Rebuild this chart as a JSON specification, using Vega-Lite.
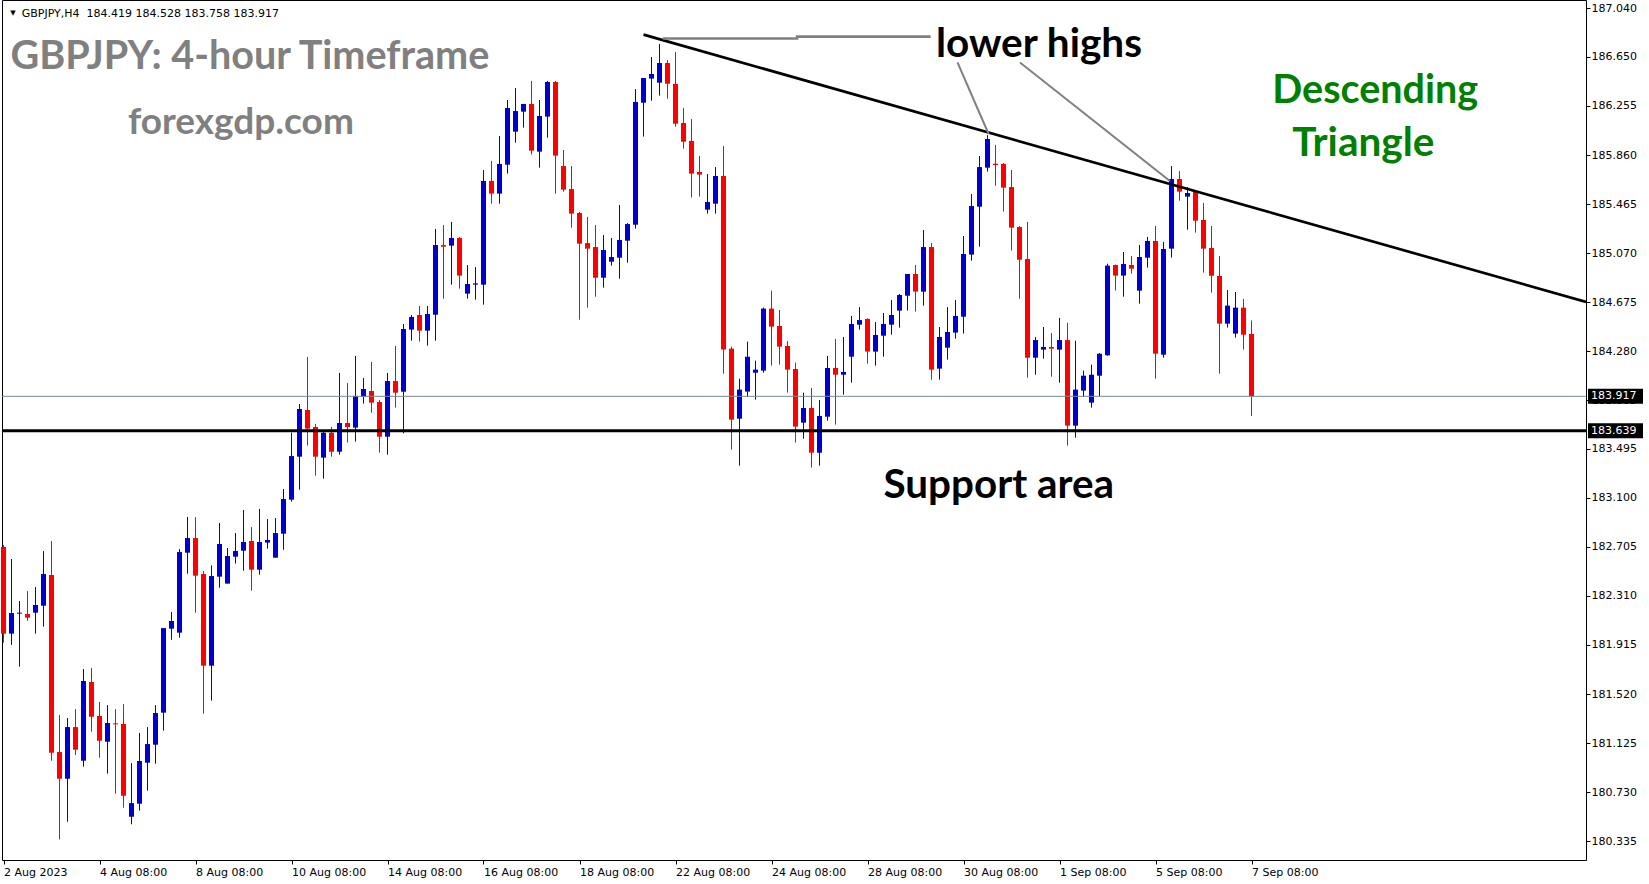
{
  "$schema": "https://vega.github.io/schema/vega-lite/v6.json",
  "width": 1584,
  "height": 860,
  "autosize": {"type": "none"},
  "padding": {"left": 2, "top": 0, "right": 63, "bottom": 24},
  "background": "#ffffff",
  "config": {"view": {"stroke": "#000000", "strokeWidth": 1}, "font": "DejaVu Sans"},
  "datasets": {
    "candles": [
      {"i":0,"o":182.704,"h":182.72,"l":181.933,"c":182.006},
      {"i":1,"o":182.006,"h":182.607,"l":181.915,"c":182.172},
      {"i":2,"o":182.167,"h":182.269,"l":181.74,"c":182.175},
      {"i":3,"o":182.164,"h":182.349,"l":182.11,"c":182.135},
      {"i":4,"o":182.175,"h":182.382,"l":182.006,"c":182.237},
      {"i":5,"o":182.231,"h":182.671,"l":182.062,"c":182.486},
      {"i":6,"o":182.478,"h":182.752,"l":180.983,"c":181.048},
      {"i":7,"o":181.053,"h":181.351,"l":180.35,"c":180.838},
      {"i":8,"o":180.838,"h":181.327,"l":180.492,"c":181.254},
      {"i":9,"o":181.254,"h":181.399,"l":181.029,"c":181.072},
      {"i":10,"o":180.983,"h":181.721,"l":180.935,"c":181.625},
      {"i":11,"o":181.617,"h":181.729,"l":181.217,"c":181.337},
      {"i":12,"o":181.343,"h":181.456,"l":181.007,"c":181.144},
      {"i":13,"o":181.136,"h":181.431,"l":180.879,"c":181.287},
      {"i":14,"o":181.284,"h":181.399,"l":180.718,"c":181.276},
      {"i":15,"o":181.279,"h":181.439,"l":180.605,"c":180.701},
      {"i":16,"o":180.532,"h":180.964,"l":180.471,"c":180.642},
      {"i":17,"o":180.637,"h":181.206,"l":180.581,"c":180.981},
      {"i":18,"o":180.967,"h":181.254,"l":180.742,"c":181.117},
      {"i":19,"o":181.112,"h":181.431,"l":180.959,"c":181.367},
      {"i":20,"o":181.37,"h":182.051,"l":181.225,"c":182.051},
      {"i":21,"o":182.046,"h":182.18,"l":181.957,"c":182.108},
      {"i":22,"o":182.014,"h":182.687,"l":181.974,"c":182.663},
      {"i":23,"o":182.658,"h":182.945,"l":182.489,"c":182.776},
      {"i":24,"o":182.776,"h":182.945,"l":182.175,"c":182.473},
      {"i":25,"o":182.486,"h":182.51,"l":181.362,"c":181.748},
      {"i":26,"o":181.748,"h":182.556,"l":181.467,"c":182.47},
      {"i":27,"o":182.465,"h":182.897,"l":182.376,"c":182.728},
      {"i":28,"o":182.409,"h":182.696,"l":182.409,"c":182.631},
      {"i":29,"o":182.626,"h":182.816,"l":182.57,"c":182.672},
      {"i":30,"o":182.674,"h":183.002,"l":182.513,"c":182.744},
      {"i":31,"o":182.752,"h":182.865,"l":182.352,"c":182.521},
      {"i":32,"o":182.521,"h":183.01,"l":182.481,"c":182.744},
      {"i":33,"o":182.739,"h":182.929,"l":182.69,"c":182.76},
      {"i":34,"o":182.618,"h":182.937,"l":182.618,"c":182.816},
      {"i":35,"o":182.811,"h":183.171,"l":182.682,"c":183.09},
      {"i":36,"o":183.085,"h":183.624,"l":183.069,"c":183.436},
      {"i":37,"o":183.431,"h":183.855,"l":183.165,"c":183.815},
      {"i":38,"o":183.807,"h":184.234,"l":183.52,"c":183.657},
      {"i":39,"o":183.67,"h":183.694,"l":183.278,"c":183.431},
      {"i":40,"o":183.423,"h":183.63,"l":183.254,"c":183.624},
      {"i":41,"o":183.624,"h":183.67,"l":183.431,"c":183.471},
      {"i":42,"o":183.471,"h":184.105,"l":183.447,"c":183.702},
      {"i":43,"o":183.702,"h":184.024,"l":183.544,"c":183.67},
      {"i":44,"o":183.665,"h":184.242,"l":183.552,"c":183.92},
      {"i":45,"o":183.914,"h":184.064,"l":183.858,"c":183.976},
      {"i":46,"o":183.96,"h":184.193,"l":183.785,"c":183.866},
      {"i":47,"o":183.871,"h":183.887,"l":183.463,"c":183.592},
      {"i":48,"o":183.592,"h":184.105,"l":183.447,"c":184.04},
      {"i":49,"o":184.04,"h":184.322,"l":183.826,"c":183.946},
      {"i":50,"o":183.954,"h":184.499,"l":183.619,"c":184.459},
      {"i":51,"o":184.454,"h":184.572,"l":184.365,"c":184.556},
      {"i":52,"o":184.572,"h":184.644,"l":184.357,"c":184.446},
      {"i":53,"o":184.446,"h":184.644,"l":184.325,"c":184.58},
      {"i":54,"o":184.574,"h":185.264,"l":184.365,"c":185.135},
      {"i":55,"o":185.135,"h":185.296,"l":184.703,"c":185.122},
      {"i":56,"o":185.13,"h":185.321,"l":184.816,"c":185.192},
      {"i":57,"o":185.192,"h":185.2,"l":184.784,"c":184.889},
      {"i":58,"o":184.744,"h":184.974,"l":184.703,"c":184.821},
      {"i":59,"o":184.816,"h":184.958,"l":184.695,"c":184.826},
      {"i":60,"o":184.816,"h":185.739,"l":184.655,"c":185.651},
      {"i":61,"o":185.651,"h":185.812,"l":185.468,"c":185.549},
      {"i":62,"o":185.549,"h":186.013,"l":185.468,"c":185.788},
      {"i":63,"o":185.782,"h":186.303,"l":185.71,"c":186.238},
      {"i":64,"o":186.048,"h":186.399,"l":185.959,"c":186.214},
      {"i":65,"o":186.209,"h":186.271,"l":186.08,"c":186.271},
      {"i":66,"o":186.271,"h":186.456,"l":185.863,"c":185.895},
      {"i":67,"o":185.887,"h":186.303,"l":185.758,"c":186.174},
      {"i":68,"o":186.169,"h":186.456,"l":185.999,"c":186.448},
      {"i":69,"o":186.448,"h":186.456,"l":185.549,"c":185.855},
      {"i":70,"o":185.771,"h":185.9,"l":185.565,"c":185.581},
      {"i":71,"o":185.586,"h":185.771,"l":185.275,"c":185.388},
      {"i":72,"o":185.393,"h":185.401,"l":184.534,"c":185.146},
      {"i":73,"o":185.151,"h":185.361,"l":184.631,"c":185.106},
      {"i":74,"o":185.119,"h":185.296,"l":184.719,"c":184.872},
      {"i":75,"o":184.872,"h":185.216,"l":184.792,"c":185.095},
      {"i":76,"o":185.001,"h":185.192,"l":184.969,"c":185.039},
      {"i":77,"o":185.033,"h":185.457,"l":184.864,"c":185.176},
      {"i":78,"o":185.17,"h":185.312,"l":184.993,"c":185.304},
      {"i":79,"o":185.299,"h":186.391,"l":185.267,"c":186.287},
      {"i":80,"o":186.281,"h":186.48,"l":186.008,"c":186.48},
      {"i":81,"o":186.475,"h":186.649,"l":186.297,"c":186.512},
      {"i":82,"o":186.442,"h":186.754,"l":186.338,"c":186.601},
      {"i":83,"o":186.601,"h":186.625,"l":186.313,"c":186.434},
      {"i":84,"o":186.432,"h":186.689,"l":186.088,"c":186.112},
      {"i":85,"o":186.118,"h":186.238,"l":185.911,"c":185.967},
      {"i":86,"o":185.973,"h":186.15,"l":185.517,"c":185.71},
      {"i":87,"o":185.723,"h":185.852,"l":185.525,"c":185.702},
      {"i":88,"o":185.42,"h":185.707,"l":185.388,"c":185.482},
      {"i":89,"o":185.468,"h":185.763,"l":185.388,"c":185.691},
      {"i":90,"o":185.691,"h":185.932,"l":184.099,"c":184.293},
      {"i":91,"o":184.301,"h":184.317,"l":183.488,"c":183.729},
      {"i":92,"o":183.737,"h":184.059,"l":183.359,"c":183.971},
      {"i":93,"o":183.955,"h":184.357,"l":183.914,"c":184.236},
      {"i":94,"o":184.107,"h":184.204,"l":183.89,"c":184.132},
      {"i":95,"o":184.124,"h":184.631,"l":184.107,"c":184.623},
      {"i":96,"o":184.623,"h":184.768,"l":184.164,"c":184.478},
      {"i":97,"o":184.483,"h":184.612,"l":184.172,"c":184.317},
      {"i":98,"o":184.322,"h":184.362,"l":183.947,"c":184.132},
      {"i":99,"o":184.137,"h":184.188,"l":183.544,"c":183.673},
      {"i":100,"o":183.705,"h":183.946,"l":183.576,"c":183.823},
      {"i":101,"o":183.823,"h":183.984,"l":183.343,"c":183.463},
      {"i":102,"o":183.463,"h":183.887,"l":183.359,"c":183.759},
      {"i":103,"o":183.753,"h":184.242,"l":183.721,"c":184.145},
      {"i":104,"o":184.145,"h":184.379,"l":183.689,"c":184.091},
      {"i":105,"o":184.091,"h":184.395,"l":183.93,"c":184.113},
      {"i":106,"o":184.236,"h":184.564,"l":184.027,"c":184.499},
      {"i":107,"o":184.494,"h":184.636,"l":184.454,"c":184.531},
      {"i":108,"o":184.54,"h":184.545,"l":184.18,"c":184.277},
      {"i":109,"o":184.277,"h":184.515,"l":184.164,"c":184.411},
      {"i":110,"o":184.405,"h":184.588,"l":184.236,"c":184.499},
      {"i":111,"o":184.494,"h":184.693,"l":184.413,"c":184.572},
      {"i":112,"o":184.607,"h":184.741,"l":184.47,"c":184.733},
      {"i":113,"o":184.727,"h":184.902,"l":184.607,"c":184.902},
      {"i":114,"o":184.902,"h":184.974,"l":184.599,"c":184.76},
      {"i":115,"o":184.76,"h":185.256,"l":184.647,"c":185.119},
      {"i":116,"o":185.119,"h":185.152,"l":184.051,"c":184.132},
      {"i":117,"o":184.14,"h":184.475,"l":184.051,"c":184.395},
      {"i":118,"o":184.309,"h":184.636,"l":184.212,"c":184.435},
      {"i":119,"o":184.43,"h":184.693,"l":184.381,"c":184.564},
      {"i":120,"o":184.558,"h":185.208,"l":184.422,"c":185.063},
      {"i":121,"o":185.058,"h":185.546,"l":185.009,"c":185.449},
      {"i":122,"o":185.444,"h":185.852,"l":185.122,"c":185.763},
      {"i":123,"o":185.758,"h":186.02,"l":185.726,"c":185.989},
      {"i":124,"o":185.79,"h":185.941,"l":185.613,"c":185.779},
      {"i":125,"o":185.788,"h":185.796,"l":185.404,"c":185.597},
      {"i":126,"o":185.602,"h":185.739,"l":185.09,"c":185.275},
      {"i":127,"o":185.28,"h":185.288,"l":184.703,"c":185.017},
      {"i":128,"o":185.023,"h":185.321,"l":184.067,"c":184.228},
      {"i":129,"o":184.228,"h":184.395,"l":184.091,"c":184.37},
      {"i":130,"o":184.293,"h":184.475,"l":184.22,"c":184.314},
      {"i":131,"o":184.314,"h":184.427,"l":184.075,"c":184.301},
      {"i":132,"o":184.293,"h":184.548,"l":184.027,"c":184.37},
      {"i":133,"o":184.37,"h":184.51,"l":183.52,"c":183.681},
      {"i":134,"o":183.681,"h":184.365,"l":183.584,"c":183.971},
      {"i":135,"o":183.963,"h":184.124,"l":183.914,"c":184.083},
      {"i":136,"o":183.866,"h":184.172,"l":183.826,"c":184.091},
      {"i":137,"o":184.083,"h":184.265,"l":183.919,"c":184.26},
      {"i":138,"o":184.247,"h":184.985,"l":184.244,"c":184.969},
      {"i":139,"o":184.974,"h":184.978,"l":184.768,"c":184.889},
      {"i":140,"o":184.889,"h":185.079,"l":184.719,"c":184.982},
      {"i":141,"o":184.974,"h":185.047,"l":184.905,"c":184.945},
      {"i":142,"o":184.768,"h":185.135,"l":184.663,"c":185.039},
      {"i":143,"o":185.033,"h":185.2,"l":184.953,"c":185.168},
      {"i":144,"o":185.168,"h":185.288,"l":184.059,"c":184.26},
      {"i":145,"o":184.252,"h":185.16,"l":184.228,"c":185.103},
      {"i":146,"o":185.106,"h":185.771,"l":185.034,"c":185.667},
      {"i":147,"o":185.667,"h":185.731,"l":185.492,"c":185.565},
      {"i":148,"o":185.525,"h":185.602,"l":185.259,"c":185.554},
      {"i":149,"o":185.562,"h":185.578,"l":185.235,"c":185.331},
      {"i":150,"o":185.337,"h":185.474,"l":184.913,"c":185.106},
      {"i":151,"o":185.111,"h":185.288,"l":184.752,"c":184.888},
      {"i":152,"o":184.886,"h":185.047,"l":184.099,"c":184.502},
      {"i":153,"o":184.502,"h":184.773,"l":184.47,"c":184.647},
      {"i":154,"o":184.422,"h":184.757,"l":184.389,"c":184.631},
      {"i":155,"o":184.631,"h":184.701,"l":184.293,"c":184.413},
      {"i":156,"o":184.419,"h":184.528,"l":183.758,"c":183.917}
    ],
    "trend": [
      {"i": 80, "p": 186.829},
      {"i": 197.8125, "p": 184.677}
    ],
    "connector": [
      {"n": 1, "i": 82.4, "p": 186.798},
      {"n": 2, "i": 99.2, "p": 186.798},
      {"n": 3, "i": 99.2, "p": 186.813},
      {"n": 4, "i": 115.9, "p": 186.813}
    ],
    "pointers": [
      {"i1": 119.25, "p1": 186.605, "i2": 123.14, "p2": 186.029},
      {"i1": 127.06, "p1": 186.605, "i2": 145.8, "p2": 185.651}
    ],
    "pricetags": [
      {"p": 183.917, "label": "183.917"},
      {"p": 183.639, "label": "183.639"}
    ]
  },
  "layer": [
    {
      "data": {"name": "candles"},
      "mark": {"type": "rule", "strokeWidth": 1},
      "encoding": {
        "x": {"field": "i", "type": "quantitative",
          "scale": {"domain": [-0.1875, 197.8125], "nice": false, "zero": false, "padding": 0},
          "axis": {
            "values": [0, 12, 24, 36, 48, 60, 72, 84, 96, 108, 120, 132, 144, 156],
            "labelExpr": "['2 Aug 2023','4 Aug 08:00','8 Aug 08:00','10 Aug 08:00','14 Aug 08:00','16 Aug 08:00','18 Aug 08:00','22 Aug 08:00','24 Aug 08:00','28 Aug 08:00','30 Aug 08:00','1 Sep 08:00','5 Sep 08:00','7 Sep 08:00'][round(datum.value/12)]",
            "labelAlign": "left", "labelBaseline": "top",
            "labelFont": "DejaVu Sans", "labelFontSize": 11, "labelColor": "#000000",
            "tickColor": "#000000", "tickSize": 4, "labelPadding": 2,
            "domain": false, "grid": false, "title": null,
            "labelFlush": false, "labelOverlap": false
          }
        },
        "y": {"field": "l", "type": "quantitative",
          "scale": {"domain": [180.1837, 187.108], "nice": false, "zero": false, "padding": 0},
          "axis": {
            "orient": "right",
            "values": [187.04, 186.65, 186.255, 185.86, 185.465, 185.07, 184.675, 184.28, 183.885, 183.495, 183.1, 182.705, 182.31, 181.915, 181.52, 181.125, 180.73, 180.335],
            "format": ".3f",
            "labelAlign": "left", "labelBaseline": "middle",
            "labelFont": "DejaVu Sans", "labelFontSize": 11, "labelColor": "#000000",
            "tickColor": "#000000", "tickSize": 4, "labelPadding": 1,
            "domain": false, "grid": false, "title": null,
            "labelFlush": false, "labelOverlap": false
          }
        },
        "y2": {"field": "h"},
        "color": {"condition": {"test": "datum.c >= datum.o", "value": "#0000CD"}, "value": "#FF0000"}
      }
    },
    {
      "data": {"name": "candles"},
      "mark": {"type": "bar", "width": 5},
      "encoding": {
        "x": {"field": "i", "type": "quantitative", "title": null},
        "y": {"field": "o", "type": "quantitative", "title": null},
        "y2": {"field": "c"},
        "color": {"condition": {"test": "datum.c >= datum.o", "value": "#0000CD"}, "value": "#FF0000"}
      }
    },
    {
      "data": {"values": [{"p": 183.917}]},
      "mark": {"type": "rule", "color": "#778899", "strokeWidth": 1},
      "encoding": {"y": {"field": "p", "type": "quantitative", "title": null}}
    },
    {
      "data": {"values": [{"p": 183.639}]},
      "mark": {"type": "rule", "color": "#000000", "strokeWidth": 3},
      "encoding": {"y": {"field": "p", "type": "quantitative", "title": null}}
    },
    {
      "data": {"name": "trend"},
      "mark": {"type": "line", "color": "#000000", "strokeWidth": 2.7, "clip": true},
      "encoding": {
        "x": {"field": "i", "type": "quantitative", "title": null},
        "y": {"field": "p", "type": "quantitative", "title": null}
      }
    },
    {
      "data": {"name": "connector"},
      "mark": {"type": "line", "color": "#808080", "strokeWidth": 2.6},
      "encoding": {
        "x": {"field": "i", "type": "quantitative", "title": null},
        "y": {"field": "p", "type": "quantitative", "title": null},
        "order": {"field": "n"}
      }
    },
    {
      "data": {"name": "pointers"},
      "mark": {"type": "rule", "color": "#808080", "strokeWidth": 2},
      "encoding": {
        "x": {"field": "i1", "type": "quantitative", "title": null},
        "y": {"field": "p1", "type": "quantitative", "title": null},
        "x2": {"field": "i2"},
        "y2": {"field": "p2"}
      }
    },
    {
      "data": {"values": [{"label": "GBPJPY,H4\u00a0 184.419 184.528 183.758 183.917"}]},
      "mark": {"type": "text", "font": "DejaVu Sans", "fontSize": 11, "color": "#000000", "align": "left", "baseline": "alphabetic"},
      "encoding": {
        "x": {"datum": 2.275, "type": "quantitative"},
        "y": {"datum": 186.969, "type": "quantitative"},
        "text": {"field": "label"}
      }
    },
    {
      "data": {"values": [{"label": "▼"}]},
      "mark": {"type": "text", "font": "DejaVu Sans", "fontSize": 7, "color": "#000000", "align": "center", "baseline": "middle"},
      "encoding": {
        "x": {"datum": 1.19, "type": "quantitative"},
        "y": {"datum": 187.0, "type": "quantitative"},
        "text": {"field": "label"}
      }
    },
    {
      "data": {"values": [{"label": "GBPJPY: 4-hour Timeframe"}]},
      "mark": {"type": "text", "font": "Lato", "fontWeight": "bold", "fontSize": 39.6, "color": "#808080", "align": "left", "baseline": "alphabetic"},
      "encoding": {
        "x": {"datum": 0.875, "type": "quantitative"},
        "y": {"datum": 186.555, "type": "quantitative"},
        "text": {"field": "label"}
      }
    },
    {
      "data": {"values": [{"label": "forexgdp.com"}]},
      "mark": {"type": "text", "font": "Lato", "fontWeight": "bold", "fontSize": 37, "color": "#808080", "align": "left", "baseline": "alphabetic"},
      "encoding": {
        "x": {"datum": 15.56, "type": "quantitative"},
        "y": {"datum": 186.032, "type": "quantitative"},
        "text": {"field": "label"}
      }
    },
    {
      "data": {"values": [{"label": "lower highs"}]},
      "mark": {"type": "text", "font": "Lato", "fontWeight": "bold", "fontSize": 40.5, "color": "#000000", "align": "left", "baseline": "alphabetic"},
      "encoding": {
        "x": {"datum": 116.56, "type": "quantitative"},
        "y": {"datum": 186.652, "type": "quantitative"},
        "text": {"field": "label"}
      }
    },
    {
      "data": {"values": [{"label": "Descending"}]},
      "mark": {"type": "text", "font": "Lato", "fontWeight": "bold", "fontSize": 39.5, "color": "#008000", "align": "left", "baseline": "alphabetic"},
      "encoding": {
        "x": {"datum": 158.6, "type": "quantitative"},
        "y": {"datum": 186.281, "type": "quantitative"},
        "text": {"field": "label"}
      }
    },
    {
      "data": {"values": [{"label": "Triangle"}]},
      "mark": {"type": "text", "font": "Lato", "fontWeight": "bold", "fontSize": 40.5, "color": "#008000", "align": "left", "baseline": "alphabetic"},
      "encoding": {
        "x": {"datum": 161.1, "type": "quantitative"},
        "y": {"datum": 185.85, "type": "quantitative"},
        "text": {"field": "label"}
      }
    },
    {
      "data": {"values": [{"label": "Support area"}]},
      "mark": {"type": "text", "font": "Lato", "fontWeight": "bold", "fontSize": 40.4, "color": "#000000", "align": "left", "baseline": "alphabetic"},
      "encoding": {
        "x": {"datum": 110.0, "type": "quantitative"},
        "y": {"datum": 183.1, "type": "quantitative"},
        "text": {"field": "label"}
      }
    },
    {
      "data": {"name": "pricetags"},
      "mark": {"type": "tick", "orient": "horizontal", "size": 55, "thickness": 15, "color": "#000000", "opacity": 1},
      "encoding": {
        "x": {"datum": 201.5, "type": "quantitative"},
        "y": {"field": "p", "type": "quantitative", "title": null}
      }
    },
    {
      "data": {"name": "pricetags"},
      "mark": {"type": "text", "font": "DejaVu Sans", "fontSize": 11, "color": "#ffffff", "align": "left", "baseline": "middle"},
      "encoding": {
        "x": {"datum": 198.44, "type": "quantitative"},
        "y": {"field": "p", "type": "quantitative", "title": null},
        "text": {"field": "label"}
      }
    }
  ]
}
